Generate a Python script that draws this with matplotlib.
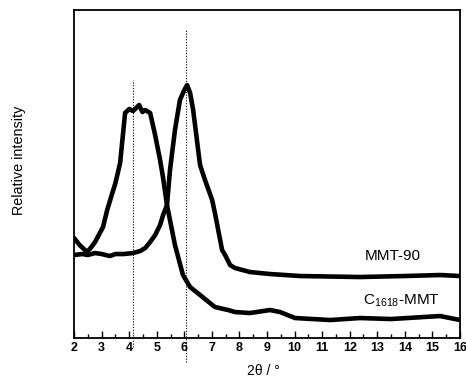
import numpy as np
from matplotlib import pyplot as plt
from matplotlib.ticker import MultipleLocator

# XRD patterns, 2theta in degrees, intensity in arbitrary units
two_theta_mmt90 = [2.0, 2.3, 2.5, 2.76, 3.0, 3.3, 3.5, 3.8, 4.14, 4.4, 4.58, 4.76,
                   4.94, 5.12, 5.23, 5.37, 5.48, 5.66, 5.84, 6.0, 6.1, 6.21, 6.32,
                   6.57, 6.75, 7.01, 7.11, 7.37, 7.48, 7.66, 7.84, 8.38, 9.11,
                   10.2, 12.37, 14.0, 15.28, 16.0]
intensity_mmt90 = [83, 84, 83, 85, 84, 82, 84, 84, 85, 87, 90, 96,
                   103, 113, 123, 133, 168, 208, 238, 248, 253, 245, 228,
                   173, 158, 138, 125, 88, 83, 73, 70, 66, 64,
                   62, 61, 62, 63, 62]

two_theta_c1618 = [2.0, 2.2, 2.47, 2.6, 2.76, 3.05, 3.2, 3.31, 3.5, 3.67, 3.85, 4.0,
                   4.14, 4.25, 4.36, 4.48, 4.58, 4.76, 4.94, 5.12, 5.23, 5.37,
                   5.66, 5.95, 6.21, 6.57, 7.11, 7.59, 7.84, 8.38, 9.11, 9.47,
                   10.02, 11.29, 12.37, 13.5, 15.28, 16.0]
intensity_c1618 = [100, 93, 86, 90, 96, 111, 128, 138, 155, 175, 225, 229,
                   227, 230, 233, 226, 228, 225, 203, 178, 160, 133,
                   93, 63, 51, 43, 31, 28, 26, 25, 28, 26,
                   20, 18, 20, 19, 22, 18]

peak_positions = [4.14, 6.05]
x_ticks = list(range(2, 17))

plt.rcParams['font.family'] = ['Liberation Sans', 'DejaVu Sans']
plt.rcParams['mathtext.default'] = 'regular'

fig = plt.figure(figsize=(4.66, 3.85), dpi=100)
ax = fig.add_axes([0.159, 0.122, 0.828, 0.852])

ax.plot(two_theta_mmt90, intensity_mmt90, color='black', lw=3.3,
        solid_joinstyle='round', solid_capstyle='round')
ax.plot(two_theta_c1618, intensity_c1618, color='black', lw=3.3,
        solid_joinstyle='round', solid_capstyle='round')

# dotted guides at the two basal reflections
ax.plot([peak_positions[0]] * 2, [-9, 258], color='black', lw=0.8,
        ls=(0, (1, 1.5)), clip_on=False)
ax.plot([peak_positions[1]] * 2, [-24, 308], color='black', lw=0.8,
        ls=(0, (1, 1.5)), clip_on=False)

ax.set_xlim(2, 16)
ax.set_ylim(0, 328)
ax.set_xticks(x_ticks)
ax.set_xticklabels([str(t) for t in x_ticks], fontweight='bold', fontsize=9)
ax.xaxis.set_minor_locator(MultipleLocator(0.5))
ax.tick_params(axis='x', which='major', direction='in', length=5, width=1, pad=3)
ax.tick_params(axis='x', which='minor', direction='in', length=3, width=1)
ax.set_yticks([])
for s in ax.spines.values():
    s.set_linewidth(1.3)

ax.text(12.55, 82, 'MMT-90', fontsize=11, ha='left', va='center')
ax.text(12.48, 37, 'C$_{1618}$-MMT', fontsize=11, ha='left', va='center')

fig.text(0.565, 0.018, '2θ / °', ha='center', va='bottom', fontsize=10)
fig.text(0.04, 0.584, 'Relative intensity', rotation=90, ha='center',
         va='center', fontsize=10.4)

fig.savefig('out.png', dpi=100)
